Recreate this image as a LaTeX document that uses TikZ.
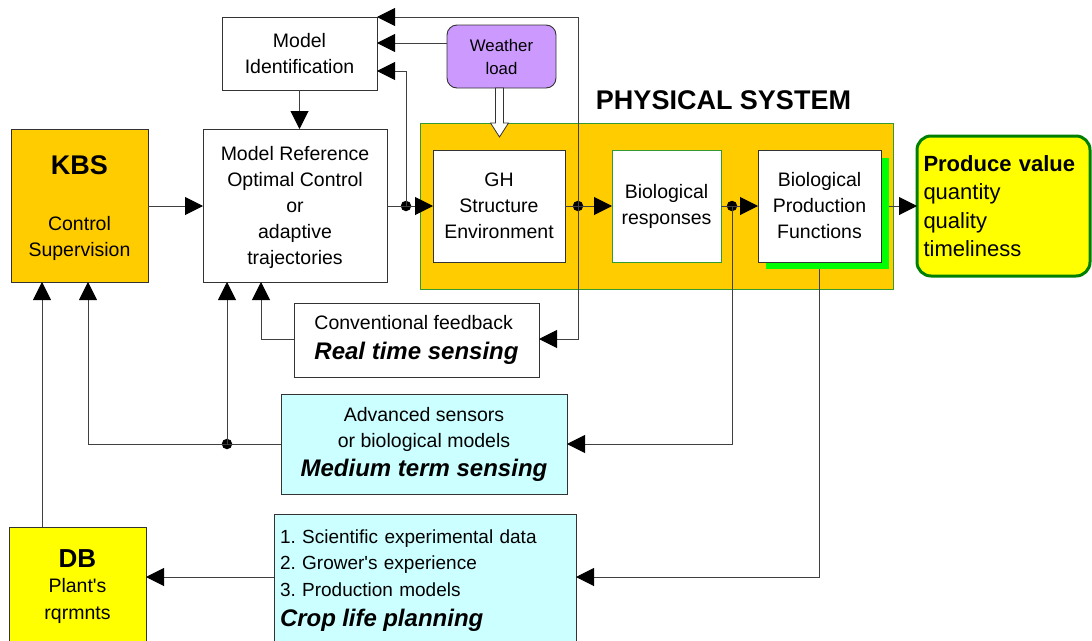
\documentclass[tikz,border=0pt]{standalone}
\usepackage{fontspec}
\setmainfont{Liberation Sans}
\usetikzlibrary{arrows.meta,calc}
\definecolor{kbsorange}{HTML}{FFCC00}
\definecolor{dbyellow}{HTML}{FFFF00}
\definecolor{senscyan}{HTML}{CCFFFF}
\definecolor{wviolet}{HTML}{CC99FF}
\definecolor{shgreen}{HTML}{00FF00}
\definecolor{pvgreen}{HTML}{008000}
\definecolor{physgreen}{HTML}{339933}
\newcommand\mainfs{\fontsize{19.5}{26}\selectfont}
\newcommand\bigbi{\bfseries\itshape\fontsize{24}{28}\selectfont}
\begin{document}
\begin{tikzpicture}[x=1pt,y=-1pt,
  every node/.style={inner sep=0pt, outer sep=0pt, font=\mainfs, align=center},
  box/.style={draw=black!80, line width=0.9pt, fill=white},
  ln/.style={draw=black!75, line width=1pt},
  arr/.style={ln, -{Triangle[length=18pt,width=18pt,color=black]}},
  dot/.style={circle, fill=black, minimum size=10.5pt, inner sep=0pt}]
\useasboundingbox (0,0) rectangle (1092,640);

% physical system frame
\node[draw=physgreen, line width=0.7pt, fill=kbsorange, minimum width=473pt, minimum height=166pt] (phys) at (656.5,206) {};
\node[font=\bfseries\fontsize{27}{30}\selectfont] (physlbl) at (723.5,100) {PHYSICAL SYSTEM};

% boxes
\node[box, minimum width=155pt, minimum height=73pt] (mi) at (299.5,53.5) {Model\\Identification};
\node[box, fill=wviolet, rounded corners=10pt, minimum width=109pt, minimum height=63pt,
      font=\fontsize{16.8}{23}\selectfont] (wl) at (501.5,56.5) {Weather\\load};
\node[box, fill=kbsorange, minimum width=137pt, minimum height=153pt] (kbs) at (79.5,205.5) {};
\node (kbstxt) at (79.5,208.5)
  {{\bfseries\fontsize{27}{30}\selectfont KBS}\\[30pt]Control\\Supervision};
\node[box, minimum width=184pt, minimum height=153pt] (mrc) at (295,205.5) {};
\node (mrctxt) at (295,207.5)
  {Model Reference\\Optimal Control\\or\\adaptive\\trajectories};
\node[box, minimum width=132pt, minimum height=112pt] (gh) at (499,206) {GH\\Structure\\Environment};
\node[box, draw=physgreen, minimum width=109pt, minimum height=112pt] (bio) at (666.5,206) {Biological\\responses};
\node[fill=shgreen, minimum width=123pt, minimum height=111pt] (bpfsh) at (827.5,213.5) {};
\node[box, minimum width=123pt, minimum height=112pt] (bpf) at (819.5,206) {Biological\\Production\\Functions};
\node[draw=pvgreen, line width=3pt, fill=dbyellow, rounded corners=14pt, minimum width=173pt, minimum height=140pt,
      text width=160pt, align=left, font=\fontsize{22}{28.3}\selectfont] (pv) at (1003.5,206)
  {{\bfseries Produce value}\\quantity\\quality\\timeliness};
\node[box, minimum width=245pt, minimum height=74pt, align=left] (rt) at (416.5,340)
  {Conventional feedback\\[4pt]{\bigbi Real time sensing}};
\node[box, fill=senscyan, minimum width=286pt, minimum height=100pt] (med) at (424,444)
  {Advanced sensors\\or biological models\\[3pt]{\bigbi Medium term sensing}};
\node[box, fill=senscyan, minimum width=302pt, minimum height=136pt] (crop) at (425,582) {};
\node[text width=290pt, align=left, font=\fontsize{19}{26.2}\selectfont] (croptxt) at (425,580.5)
  {1.\ Scientific experimental data\\2.\ Grower\textquotesingle s experience\\3.\ Production models\\[4pt]{\bigbi Crop life planning}};
\node[box, fill=dbyellow, minimum width=137pt, minimum height=133pt] (db) at (77.5,593.5) {};
\node (dbtxt) at (77.5,587)
  {{\bfseries\fontsize{26}{30}\selectfont DB}\\[-1pt]Plant\textquotesingle s\\[1pt]rqrmnts};

% weather load hollow arrow
\draw[draw=black!80, line width=0.8pt, fill=white]
  (495.5,88) -- (503.5,88) -- (503.5,123) -- (508.5,123) -- (499.5,137) -- (490.5,123) -- (495.5,123) -- cycle;

% junction dots
\node[dot] (j1) at (406,206) {};
\node[dot] (j2) at (578,206) {};
\node[dot] (j3) at (732,206) {};
\node[dot] (j4) at (227,444) {};

% bend coordinates
\coordinate (c1) at (406,71);
\coordinate (c2) at (578,17);
\coordinate (c3) at (578,339);
\coordinate (c4) at (732,444);
\coordinate (c5) at (819,577);
\coordinate (c6) at (88,444);
\coordinate (c7) at (261,339);
\coordinate (c8) at (42,282);

% connectors
\draw[arr] (kbs.east |- j1) -- (mrc.west |- j1);
\draw[ln] (mrc.east |- j1) -- (j1.center);
\draw[arr] (j1.center) -- (gh.west);
\draw[arr] (j1.center) -- (c1) -- (c1 -| mi.east);
\draw[arr] ([yshift=13.5pt]wl.west) -- ([yshift=13.5pt]wl.west -| mi.east);
\draw[arr] (mi.south) -- (mi.south |- mrc.north);
\draw[ln] (gh.east) -- (j2.center);
\draw[arr] (j2.center) -- (bio.west);
\draw[arr] (j2.center) -- (c2) -- (mi.north east);
\draw[arr] (j2.center) -- (c3) -- (rt.east |- c3);
\draw[ln] (bio.east) -- (j3.center);
\draw[arr] (j3.center) -- (bpf.west);
\draw[arr] (j3.center) -- (c4) -- (med.east |- c4);
\draw[arr] (bpfsh.east |- pv.west) -- (pv.west);
\draw[arr] (bpfsh.south -| c5) -- (c5) -- (crop.east |- c5);
\draw[arr] (crop.west |- c5) -- (db.east |- c5);
\draw[arr] (db.north -| c8) -- (c8);
\draw[ln] (med.west |- j4) -- (j4.center);
\draw[arr] (j4.center) -- (c6) -- (c6 |- kbs.south);
\draw[arr] (j4.center) -- (j4 |- mrc.south);
\draw[arr] (rt.west |- c7) -- (c7) -- (c7 |- mrc.south);
\end{tikzpicture}
\end{document}
